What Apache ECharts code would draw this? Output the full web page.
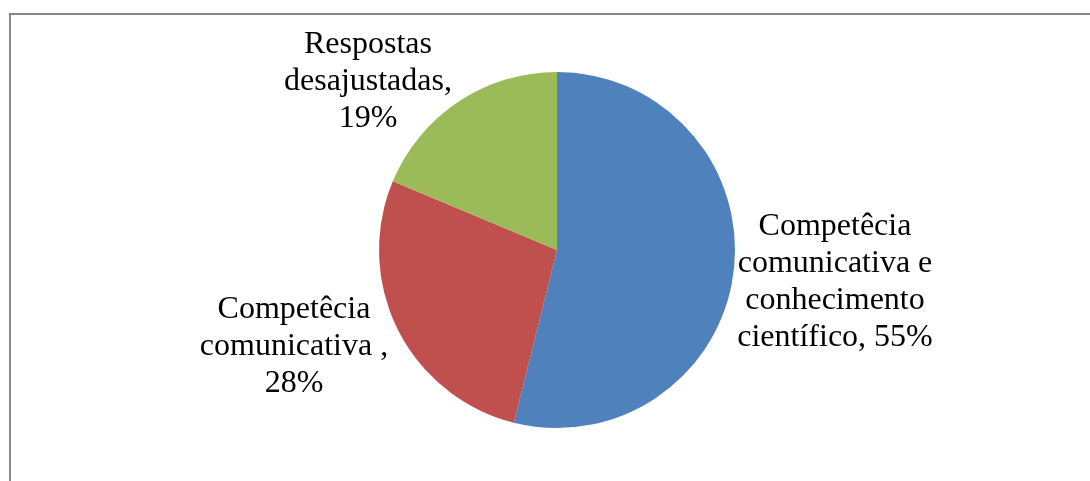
<!DOCTYPE html>
<html>
<head>
<meta charset="utf-8">
<script src="https://cdn.jsdelivr.net/npm/echarts@6/dist/echarts.min.js"></script>
<style>
  html, body { margin: 0; padding: 0; background: #fff; }
  #chart { width: 1090px; height: 481px; }
</style>
</head>
<body>
<div id="chart"></div>
<script>
// categorias e valores
var categories = ['Competêcia\ncomunicativa e\nconhecimento\ncientífico', 'Competêcia\ncomunicativa ', 'Respostas\ndesajustadas']
var values = [53.9, 27.4, 18.7]
var pctLabels = ['55%', '28%', '19%']
var colors = ['#4F81BD', '#C0504D', '#9BBB59']

// separador entre nome e percentagem, posição dos rótulos
var labelSep = [', ', ',\n', ',\n']
var labelPos = [[835, 282], [294, 347], [368, 82]]

var chart = echarts.init(document.getElementById('chart'))
chart.setOption({
  backgroundColor: '#fff',
  animation: false,
  graphic: [{
    type: 'rect',
    shape: { x: 10, y: 14, width: 1100, height: 500 },
    style: { fill: 'none', stroke: '#868686', lineWidth: 2 }
  }],
  series: [{
    type: 'pie',
    center: [557, 250],
    radius: 178,
    startAngle: 90,
    clockwise: true,
    data: values.map(function(v, i) {
      return { name: categories[i], value: v, itemStyle: { color: colors[i] } }
    }),
    label: {
      show: true,
      position: 'outside',
      fontFamily: 'Liberation Serif',
      fontSize: 32,
      lineHeight: 37,
      color: '#000',
      align: 'center',
      formatter: function(p) {
        return p.name + labelSep[p.dataIndex] + pctLabels[p.dataIndex]
      }
    },
    labelLine: { show: false },
    labelLayout: function(p) {
      return {
        x: labelPos[p.dataIndex][0],
        y: labelPos[p.dataIndex][1],
        align: 'center',
        verticalAlign: 'middle'
      }
    },
    emphasis: { disabled: true }
  }]
})
</script>
</body>
</html>
